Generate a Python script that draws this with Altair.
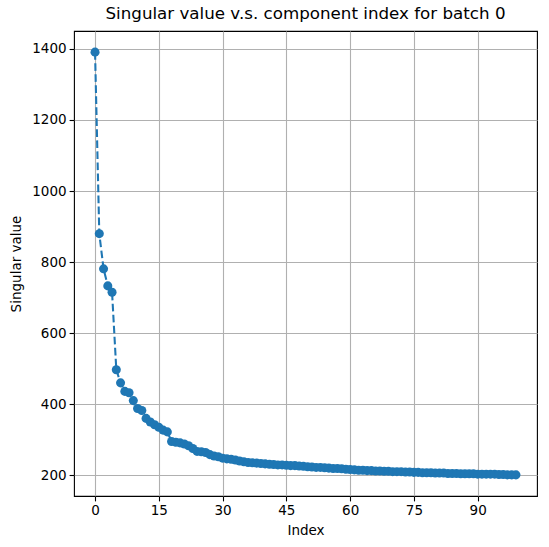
import altair as alt
import pandas as pd

index = list(range(100))
singular = [
    1391, 880, 781, 733, 715, 497, 460, 436, 432, 410,
    388, 382, 360, 350, 342, 335, 327, 322, 295, 293,
    291, 288, 283, 275, 267, 266, 264, 258, 254, 252,
    248, 246, 245, 243, 240, 238, 236, 235, 234, 233,
    232, 231, 230, 229, 229, 228, 227, 227, 226, 225,
    224, 223, 222, 222, 221, 220, 219, 219, 218, 217,
    216, 215, 214, 214, 213, 213, 212, 212, 211, 211,
    210, 210, 210, 209, 209, 208, 208, 207, 207, 207,
    206, 206, 206, 205, 205, 205, 204, 204, 204, 204,
    203, 203, 203, 203, 203, 202, 202, 201, 201, 201,
]
x_ticks = [0, 15, 30, 45, 60, 75, 90]
y_ticks = [200, 400, 600, 800, 1000, 1200, 1400]

df = pd.DataFrame({"Index": index, "Singular value": singular})

xmin, xmax = min(index), max(index)
ymin, ymax = min(singular), max(singular)
xr, yr = xmax - xmin, ymax - ymin
xdom = [xmin - 0.05 * xr, xmax + 0.05 * xr]
ydom = [ymin - 0.05 * yr, ymax + 0.05 * yr]

color = "#1f77b4"
font = "DejaVu Sans"

x_enc = alt.X("Index:Q", scale=alt.Scale(domain=xdom, nice=False, zero=False),
              axis=alt.Axis(values=x_ticks, title="Index", format="d"))
y_enc = alt.Y("Singular value:Q", scale=alt.Scale(domain=ydom, nice=False, zero=False),
              axis=alt.Axis(values=y_ticks, title="Singular value", format="d"))

line = alt.Chart(df).mark_line(color=color, strokeWidth=2.08, strokeDash=[7.7, 3.33]).encode(x=x_enc, y=y_enc)
pts = alt.Chart(df).mark_circle(color=color, size=82, opacity=1).encode(x=x_enc, y=y_enc)

chart = (line + pts).properties(
    width=463, height=465,
    title=alt.TitleParams("Singular value v.s. component index for batch 0",
                          font=font, fontSize=16.7, fontWeight="normal", color="black",
                          offset=8, anchor="middle"),
    autosize=alt.AutoSizeParams(type="none"),
    padding={"left": 74, "top": 31, "right": 12, "bottom": 51},
).configure_view(stroke="black", strokeWidth=1.1).configure_axis(
    labelFont=font, labelFontSize=13.5, labelColor="black",
    titleFont=font, titleFontSize=13.5, titleColor="black", titleFontWeight="normal",
    tickColor="black", tickSize=4.9, tickWidth=1.1, labelPadding=3,
    domain=False, grid=True, gridColor="#b0b0b0", gridWidth=1.1,
).configure_axisX(titlePadding=6).configure_axisY(titlePadding=8)

chart.save("out.html", embed_options={"renderer": "svg", "actions": False})
